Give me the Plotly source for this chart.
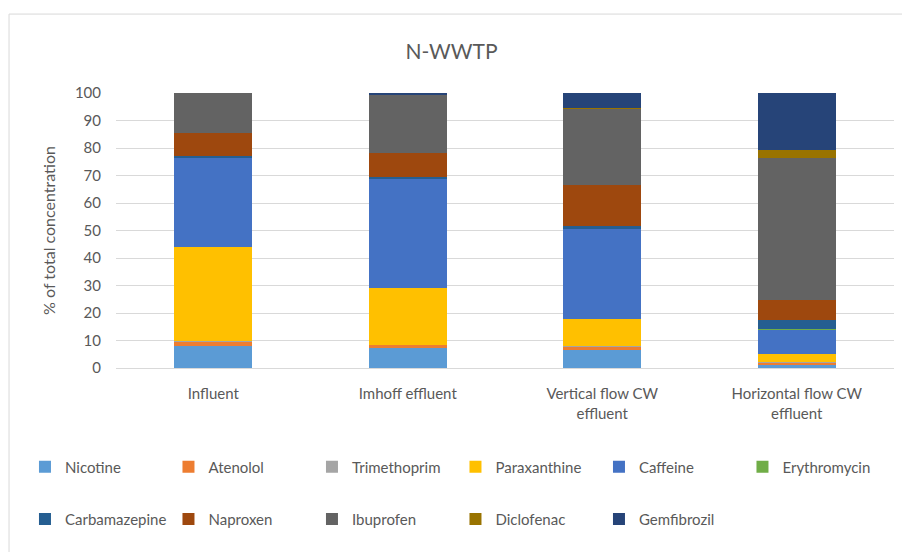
import plotly.graph_objects as go

categories = ["Influent", "Imhoff effluent", "Vertical flow CW<br>effluent", "Horizontal flow CW<br>effluent"]
compounds = ["Nicotine", "Atenolol", "Trimethoprim", "Paraxanthine", "Caffeine", "Erythromycin",
             "Carbamazepine", "Naproxen", "Ibuprofen", "Diclofenac", "Gemfibrozil"]
nicotine = [7.9, 7.1, 6.4, 1.0]
atenolol = [1.8, 1.3, 1.5, 1.1]
trimethoprim = [0.2, 0.1, 0.1, 0.1]
paraxanthine = [34.1, 20.5, 9.9, 3.0]
caffeine = [32.6, 39.9, 32.8, 8.7]
erythromycin = [0.1, 0.1, 0.2, 0.4]
carbamazepine = [0.3, 0.3, 0.7, 3.2]
naproxen = [8.4, 8.9, 14.8, 7.3]
ibuprofen = [14.6, 21.1, 27.8, 51.5]
diclofenac = [0.0, 0.1, 0.2, 2.9]
gemfibrozil = [0.0, 0.6, 5.6, 20.8]
y_ticks = [0, 10, 20, 30, 40, 50, 60, 70, 80, 90, 100]

series = [nicotine, atenolol, trimethoprim, paraxanthine, caffeine, erythromycin,
          carbamazepine, naproxen, ibuprofen, diclofenac, gemfibrozil]
colors = ["#5B9BD5", "#ED7D31", "#A5A5A5", "#FFC000", "#4472C4", "#70AD47",
          "#255E91", "#9E480E", "#636363", "#997300", "#264478"]

FONT = "Lato"
GREY = "#595959"

fig = go.Figure()
for i, (name, vals, col) in enumerate(zip(compounds, series, colors)):
    fig.add_trace(go.Bar(
        x=categories, y=vals, name=name,
        marker=dict(color=col, line=dict(width=0)),
        legend="legend" if i < 6 else "legend2",
    ))

legend_common = dict(
    orientation="h", xanchor="left", yanchor="middle",
    font=dict(family=FONT, size=15, color=GREY),
    entrywidth=98.5, entrywidthmode="pixels",
    bgcolor="rgba(0,0,0,0)", traceorder="normal",
    itemclick=False, itemdoubleclick=False,
)

fig.update_layout(
    width=903, height=552,
    margin=dict(l=116, r=9, t=93, b=184),
    paper_bgcolor="white", plot_bgcolor="white",
    barmode="stack", bargap=0.6,
    font=dict(family=FONT, size=14, color=GREY),
    title=dict(text="N-WWTP", x=0.5, xanchor="center", y=0.906, yanchor="middle",
               font=dict(family=FONT, size=21, color=GREY)),
    xaxis=dict(showgrid=False, showline=True, linecolor="#D9D9D9", linewidth=1,
               tickfont=dict(family=FONT, size=15, color=GREY), ticks="",
               ticklabelstandoff=12),
    yaxis=dict(range=[0, 100], tickvals=y_ticks, showgrid=True, gridcolor="#D9D9D9",
               gridwidth=1, zeroline=False, showline=False, ticks="",
               ticklabelstandoff=14,
               tickfont=dict(family=FONT, size=15, color=GREY),
               title=dict(text="% of total concentration", standoff=15,
                          font=dict(family=FONT, size=16, color=GREY))),
    legend=dict(x=-0.117, y=-0.36, **legend_common),
    legend2=dict(x=-0.117, y=-0.55, **legend_common),
    shapes=[
        dict(type="line", xref="paper", yref="paper", x0=-0.1375, x1=1.0103, y0=1.287, y1=1.287,
             line=dict(color="#D9D9D9", width=1)),
        dict(type="line", xref="paper", yref="paper", x0=-0.1375, x1=-0.1375, y0=1.287, y1=-0.7,
             line=dict(color="#D9D9D9", width=1)),
    ],
)

fig.write_html("out.html", config={"displayModeBar": False},
               post_script="document.body.style.margin='0';document.body.style.padding='0';")
